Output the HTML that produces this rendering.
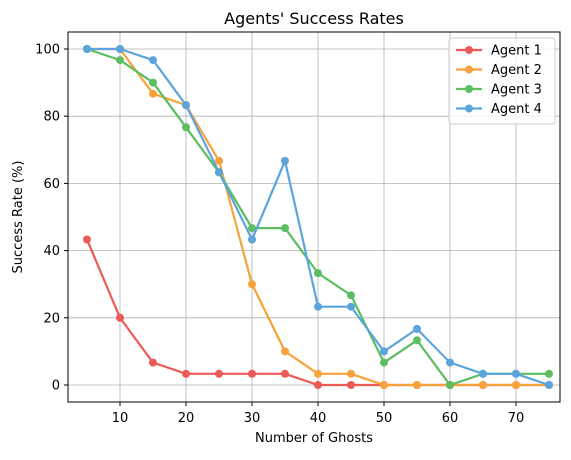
<!DOCTYPE html>
<html><head><meta charset="utf-8"><style>
body{margin:0;background:#fff;}
svg{font-family:"DejaVu Sans","Liberation Sans",sans-serif;}
</style></head><body>
<svg id="chart" width="571" height="455" viewBox="0 0 571 455" xmlns="http://www.w3.org/2000/svg">
<rect width="571" height="455" fill="#fff"/>
<g id="grid"></g>
<g id="series"></g>
<rect x="68" y="32" width="492" height="370" fill="none" stroke="#000" stroke-width="1"/>
<g id="ticks"></g>
<text x="314" y="24" text-anchor="middle" font-size="16">Agents' Success Rates</text>
<text x="314" y="442" text-anchor="middle" font-size="13">Number of Ghosts</text>
<text transform="translate(22,217) rotate(-90)" text-anchor="middle" font-size="13">Success Rate (%)</text>
<g id="legend"></g>
</svg>
<script>
const ghosts=[5,10,15,20,25,30,35,40,45,50,55,60,65,70,75];
const agent1=[43.3,20,6.67,3.33,3.33,3.33,3.33,0,0,0,0,0,0,0,0];
const agent2=[100,100,86.7,83.3,66.7,30,10,3.33,3.33,0,0,0,0,0,0];
const agent3=[100,96.7,90,76.7,63.3,46.7,46.7,33.3,26.7,6.67,13.3,0,3.33,3.33,3.33];
const agent4=[100,100,96.7,83.3,63.3,43.3,66.7,23.3,23.3,10,16.7,6.67,3.33,3.33,0];
const xTicks=[10,20,30,40,50,60,70];
const yTicks=[0,20,40,60,80,100];
const seriesNames=["Agent 1","Agent 2","Agent 3","Agent 4"];
const colors=["#ec5a57","#f7a23b","#5dbd61","#5ba4dc"];
const NS="http://www.w3.org/2000/svg";
const X=v=>120+(v-10)*6.6;
const Y=v=>385-v*3.36;
function mk(t,a,p){const e=document.createElementNS(NS,t);for(const k in a)e.setAttribute(k,a[k]);p.appendChild(e);return e;}
const grid=document.getElementById('grid'),ticks=document.getElementById('ticks');
xTicks.forEach(t=>{
 const g=mk('line',{x1:X(t),x2:X(t),y1:32,y2:402,stroke:'#b0b0b0','stroke-width':0.8},grid);
 
 
 mk('line',{x1:X(t),x2:X(t),y1:402,y2:406,stroke:'#000'},ticks);
 const l=mk('text',{x:X(t),y:422,'text-anchor':'middle','font-size':13},ticks);l.textContent=t;
 
 
});
yTicks.forEach(t=>{
 const g=mk('line',{x1:68,x2:560,y1:Y(t),y2:Y(t),stroke:'#b0b0b0','stroke-width':0.8},grid);
 
 
 mk('line',{x1:64,x2:68,y1:Y(t),y2:Y(t),stroke:'#000'},ticks);
 const l=mk('text',{x:60,y:Y(t)+4.5,'text-anchor':'end','font-size':13},ticks);l.textContent=t;
 
 
});
const ser=document.getElementById('series');
[agent1,agent2,agent3,agent4].forEach((d,i)=>{
 const g=mk('g',{},ser);
 
 
 const pl=mk('polyline',{points:d.map((v,j)=>X(ghosts[j])+','+Y(v)).join(' '),fill:'none',stroke:colors[i],'stroke-width':2.2},g);
 
 
 d.forEach((v,j)=>{
  const c=mk('circle',{cx:X(ghosts[j]),cy:Y(v),r:4,fill:colors[i]},g);
  
  
 });
});
const lg=document.getElementById('legend');
const box=mk('rect',{x:449,y:38,width:106,height:86,rx:3,fill:'#fff','fill-opacity':0.8,stroke:'#ccc'},lg);


seriesNames.forEach((n,i)=>{
 const y=50+i*19.5;
 const g=mk('g',{},lg);
 
 
 mk('line',{x1:456,x2:482,y1:y,y2:y,stroke:colors[i],'stroke-width':2.2},g);
 mk('circle',{cx:469,cy:y,r:4,fill:colors[i]},g);
 const t=mk('text',{x:491,y:y+4.5,'font-size':13},g);t.textContent=n;
});
</script>
</body></html>
